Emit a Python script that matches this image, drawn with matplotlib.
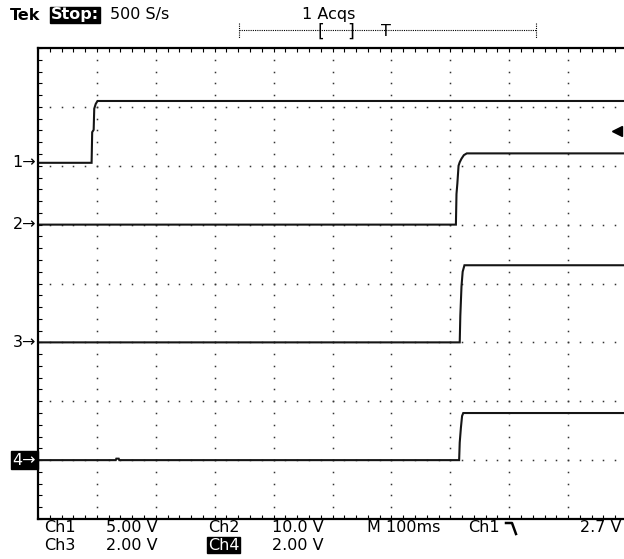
import numpy as np
import matplotlib.pyplot as plt
from matplotlib.lines import Line2D
import matplotlib.transforms as mtransforms

# scope settings
volts_per_div = [5.0, 10.0, 2.0, 2.0]      # Ch1..Ch4
ground_div = [6.05, 5.0, 3.0, 1.0]         # ground marker position (divisions from bottom)
trig_level = 2.7                            # Ch1 falling edge, volts
ms_per_div = 100

# traces (time in ms from left edge, volts)
ch1_t = [0, 91, 92, 94.5, 95.5, 98, 101, 1000]
ch1_v = [0, 0, 2.6, 2.8, 4.6, 5.0, 5.25, 5.25]
ch2_t = [0, 709.5, 710.5, 712, 714, 716, 719, 723, 728, 1000]
ch2_v = [0, 0, 5.2, 7.0, 10.0, 10.6, 11.2, 11.8, 12.1, 12.1]
ch3_t = [0, 716, 717, 719, 721, 724, 1000]
ch3_v = [0, 0, 0.9, 1.9, 2.4, 2.62, 2.62]
ch4_t = [0, 132, 133, 137, 138, 715, 716, 718, 720, 722, 1000]
ch4_v = [0, 0, 0.05, 0.05, 0, 0, 0.6, 1.1, 1.5, 1.6, 1.6]

W, H = 624, 559
fig = plt.figure(figsize=(W / 100, H / 100), dpi=100)
plt.rcParams['font.family'] = ['DejaVu Sans']


def fx(x):
    return x / W


def fy(y):
    return 1 - y / H


# graticule: left 38px, top 48px, 58.9 px/div, right side runs off the picture
ax = fig.add_axes([fx(38), fy(519), 589 / W, 471 / H])
ax.set_xlim(0, 10 * ms_per_div)
ax.set_ylim(0, 8)

for s in ['left', 'top', 'bottom']:
    ax.spines[s].set_linewidth(1.6)
ax.spines['right'].set_visible(False)

ax.set_xticks(np.arange(0, 10.01, 0.2) * ms_per_div)
ax.set_yticks(np.arange(0, 8.01, 0.2))
ax.tick_params(direction='in', length=3, width=0.8, top=True, bottom=True,
               left=True, right=False, labelbottom=False, labelleft=False)

# dotted grid
sub = np.arange(0, 10.01, 0.2)
for k in range(1, 10):
    yy = np.arange(0, 8.01, 0.2)
    ax.plot(np.full_like(yy, k * ms_per_div), yy, ls='none', marker='s',
            ms=1.1, mew=0, color='#333333')
for j in range(1, 8):
    ax.plot(sub * ms_per_div, np.full_like(sub, j), ls='none', marker='s',
            ms=1.1, mew=0, color='#333333')

traces = [(ch1_t, ch1_v), (ch2_t, ch2_v), (ch3_t, ch3_v), (ch4_t, ch4_v)]
for i, (t, v) in enumerate(traces):
    y = ground_div[i] + np.array(v) / volts_per_div[i]
    ax.plot(t, y, color='#151515', lw=1.5, solid_joinstyle='miter')

# trigger level marker
ax.plot([983], [ground_div[0] + trig_level / volts_per_div[0]], marker='<',
        ms=7, color='black', clip_on=False)

# channel ground markers
blend = mtransforms.blended_transform_factory(ax.transAxes, ax.transData)
for i in range(4):
    kw = dict(ha='right', va='center', fontsize=11.5, transform=blend)
    if i == 3:
        ax.text(-0.003, ground_div[i], '4\u2192', color='white',
                bbox=dict(facecolor='black', edgecolor='black', pad=1.2), **kw)
    else:
        ax.text(-0.003, ground_div[i], f'{i + 1}\u2192', color='black', **kw)

# header
fs = 11.5
fig.text(fx(10), fy(15), 'Tek', fontsize=fs, fontweight='bold', va='center')
fig.text(fx(51), fy(15), 'Stop:', fontsize=fs, fontweight='bold', va='center',
         color='white', bbox=dict(facecolor='black', edgecolor='black', pad=0.6))
fig.text(fx(110), fy(15), '500 S/s', fontsize=fs, va='center')
fig.text(fx(302), fy(15), '1 Acqs', fontsize=fs, va='center')

# record length bar
fig.add_artist(Line2D([fx(239), fx(536)], [fy(30), fy(30)], color='black',
                      lw=0.8, ls=(0, (1, 1))))
for xe in (239, 536):
    fig.add_artist(Line2D([fx(xe), fx(xe)], [fy(23), fy(38)], color='black',
                          lw=0.8, ls=(0, (1, 1))))
fig.text(fx(321), fy(32), '[', fontsize=12.5, va='center', ha='center')
fig.text(fx(351), fy(32), ']', fontsize=12.5, va='center', ha='center')
fig.text(fx(386), fy(32), 'T', fontsize=fs, va='center', ha='center')

# bottom readout
r1, r2 = 528, 545
fig.text(fx(44), fy(r1), 'Ch1', fontsize=fs, va='center')
fig.text(fx(106), fy(r1), '5.00 V', fontsize=fs, va='center')
fig.text(fx(208), fy(r1), 'Ch2', fontsize=fs, va='center')
fig.text(fx(272), fy(r1), '10.0 V', fontsize=fs, va='center')
fig.text(fx(367), fy(r1), 'M 100ms', fontsize=fs, va='center')
fig.text(fx(468), fy(r1), 'Ch1', fontsize=fs, va='center')
fig.add_artist(Line2D([fx(506), fx(512), fx(516)], [fy(523), fy(523), fy(534)],
                      color='black', lw=1.8))
fig.text(fx(621), fy(r1), '2.7 V', fontsize=fs, va='center', ha='right')
fig.text(fx(44), fy(r2), 'Ch3', fontsize=fs, va='center')
fig.text(fx(106), fy(r2), '2.00 V', fontsize=fs, va='center')
fig.text(fx(208), fy(r2), 'Ch4', fontsize=fs, va='center', color='white',
         bbox=dict(facecolor='black', edgecolor='black', pad=0.6))
fig.text(fx(272), fy(r2), '2.00 V', fontsize=fs, va='center')

fig.savefig('out.png', dpi=100)
